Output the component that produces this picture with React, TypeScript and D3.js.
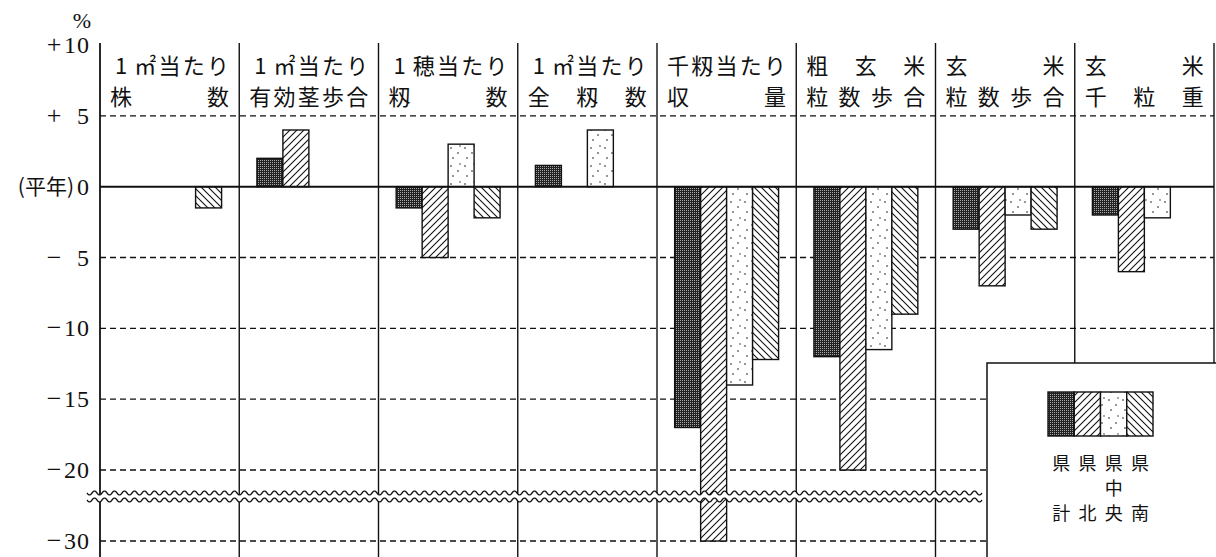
import React from "react";
import * as d3 from "d3";

// ---- data ----
const categoryLine1 = ["1㎡当たり", "1㎡当たり", "1穂当たり", "1㎡当たり", "千籾当たり", "粗玄米", "玄米", "玄米"];
const categoryLine2 = ["株数", "有効茎歩合", "籾数", "全籾数", "収量", "粒数歩合", "粒数歩合", "千粒重"];
const seriesNames = ["県計", "県北", "県中央", "県南"];
const valuesKenkei = [0, 2, -1.5, 1.5, -17, -12, -3, -2];
const valuesKenpoku = [0, 4, -5, 0, -30, -20, -7, -6];
const valuesKenchuo = [0, 0, 3, 4, -14, -11.5, -2, -2.2];
const valuesKennan = [-1.5, 0, -2.2, 0, -12.2, -9, -3, 0];
const yTicks = [10, 5, 0, -5, -10, -15, -20, -30];
const yTickSigns = ["+", "+", "", "−", "−", "−", "−", "−"];
const yTickNums = ["10", "5", "0", "5", "10", "15", "20", "30"];
const dashedTicks = [5, -5, -10, -15, -20, -30];
const legendTop = ["県", "県", "県", "県"];
const legendMid = ["", "", "中", ""];
const legendBot = ["計", "北", "央", "南"];

const seriesValues = [valuesKenkei, valuesKenpoku, valuesKenchuo, valuesKennan];
const patternIds = ["pKei", "pKita", "pChuo", "pMinami"];

const W = 1216;
const H = 557;
const LEFT = 100;
const RIGHT = 1214;
const TOP = 43;
const JP = "Noto Sans CJK JP";
const NUM = "Liberation Serif";
const INK = "#111";

export default function App() {
  const idx = categoryLine1.map((_, i) => i);
  const x0 = d3.scaleBand<number>().domain(idx).range([LEFT, RIGHT]).padding(0);
  const x1 = d3
    .scaleBand<number>()
    .domain(d3.range(seriesNames.length))
    .range([0, x0.bandwidth()])
    .paddingInner(0)
    .paddingOuter(0.68);
  const y = d3.scaleLinear().domain([-30, -20, 10]).range([541, 470, 45]);
  const y0 = y(0);

  const distribute = (text: string, px: number) => {
    const chars = Array.from(text);
    const a = px + 21;
    const b = px + 118;
    return chars.map((c, i) => ({
      c,
      x: chars.length === 1 ? (a + b) / 2 : a + (i * (b - a)) / (chars.length - 1),
    }));
  };

  // break waves (decoration)
  const waveXs = d3.range(87, 983, 1);
  const wave = (base: number) =>
    waveXs.map((wx) => [wx, base + 2 * Math.sin((2 * Math.PI * (wx - 87)) / 10)] as [number, number]);
  const upper = wave(493);
  const lower = wave(500);
  const line = d3.line();
  const band =
    "M" +
    upper.map((p) => p.join(",")).join("L") +
    "L" +
    lower
      .slice()
      .reverse()
      .map((p) => p.join(","))
      .join("L") +
    "Z";

  const legendX = d3.scaleBand<number>().domain(d3.range(4)).range([1048, 1153]);
  const jpStyle = { fontFamily: JP };
  const numStyle = { fontFamily: NUM };

  return (
    <svg width={W} height={H} style={{ position: "absolute", left: 0, top: 0, background: "#fff" }}>
      <defs>
        <pattern id="pKei" width={2} height={2} patternUnits="userSpaceOnUse">
          <rect width={2} height={2} fill="#222" />
          <rect x={0} y={0} width={1} height={1} fill="#aaa" />
        </pattern>
        <pattern id="pKita" width={7} height={7} patternUnits="userSpaceOnUse">
          <rect width={7} height={7} fill="#fff" />
          <path d="M-1,1 L1,-1 M0,7 L7,0 M6,8 L8,6" stroke={INK} strokeWidth={1.1} />
        </pattern>
        <pattern id="pMinami" width={7} height={7} patternUnits="userSpaceOnUse">
          <rect width={7} height={7} fill="#fff" />
          <path d="M-1,6 L1,8 M0,0 L7,7 M6,-1 L8,1" stroke={INK} strokeWidth={1.1} />
        </pattern>
        <pattern id="pChuo" width={14} height={18} patternUnits="userSpaceOnUse">
          <rect width={14} height={18} fill="#fff" />
          <circle cx={3} cy={4} r={0.8} fill={INK} />
          <circle cx={10} cy={9} r={0.8} fill={INK} />
          <circle cx={5} cy={14} r={0.8} fill={INK} />
          <circle cx={12} cy={2} r={0.7} fill={INK} />
        </pattern>
      </defs>

      {/* dashed grid */}
      {dashedTicks.map((t) => (
        <line key={"g" + t} x1={LEFT} x2={RIGHT} y1={y(t)} y2={y(t)} stroke={INK} strokeWidth={1.4} strokeDasharray="6,4" />
      ))}

      {/* bars */}
      {idx.map((i) =>
        seriesValues.map((vals, s) => {
          const v = vals[i];
          if (!v) return null;
          const yv = y(v);
          return (
            <rect
              key={`b${i}-${s}`}
              x={(x0(i) as number) + (x1(s) as number)}
              y={Math.min(yv, y0)}
              width={x1.bandwidth()}
              height={Math.abs(yv - y0)}
              fill={`url(#${patternIds[s]})`}
              stroke={INK}
              strokeWidth={1.4}
            />
          );
        })
      )}

      {/* zero line */}
      <line x1={LEFT} x2={RIGHT} y1={y0} y2={y0} stroke={INK} strokeWidth={2} />

      {/* panel dividers and axis */}
      {idx.map((i) => (
        <line
          key={"v" + i}
          x1={x0(i) as number}
          x2={x0(i) as number}
          y1={TOP}
          y2={H}
          stroke={INK}
          strokeWidth={i === 0 ? 1.8 : 1.4}
        />
      ))}
      <line x1={RIGHT} x2={RIGHT} y1={TOP} y2={H} stroke={INK} strokeWidth={1.4} />

      {/* headers */}
      {idx.map((i) => {
        const px = x0(i) as number;
        return (
          <g key={"h" + i} style={jpStyle} fontSize={22} fill={INK} textAnchor="middle">
            {distribute(categoryLine1[i], px).map((d, k) => (
              <text key={"a" + k} x={d.x} y={74}>
                {d.c}
              </text>
            ))}
            {distribute(categoryLine2[i], px).map((d, k) => (
              <text key={"b" + k} x={d.x} y={105}>
                {d.c}
              </text>
            ))}
          </g>
        );
      })}

      {/* break band */}
      <path d={band} fill="#fff" stroke="none" />
      <path d={line(upper) as string} fill="none" stroke={INK} strokeWidth={1.3} />
      <path d={line(lower) as string} fill="none" stroke={INK} strokeWidth={1.3} />

      {/* y tick labels */}
      <text x={91} y={28} textAnchor="end" style={numStyle} fontSize={22} fill={INK}>
        %
      </text>
      {yTicks.map((t, k) => (
        <g key={"t" + t} fill={INK}>
          {yTickSigns[k] && (
            <text x={54} y={y(t) + 8} textAnchor="middle" style={numStyle} fontSize={26}>
              {yTickSigns[k]}
            </text>
          )}
          <text x={90} y={y(t) + 8} textAnchor="end" style={numStyle} fontSize={24} letterSpacing={1}>
            {yTickNums[k]}
          </text>
          {t === 0 && (
            <text x={74} y={y(t) + 7} textAnchor="end" style={jpStyle} fontSize={21}>
              (平年)
            </text>
          )}
        </g>
      ))}

      {/* legend */}
      <rect x={987} y={363} width={260} height={220} fill="#fff" stroke={INK} strokeWidth={1.5} />
      {seriesNames.map((n, s) => {
        const cx = (legendX(s) as number) + legendX.bandwidth() / 2;
        return (
          <g key={"l" + s}>
            <rect
              x={legendX(s) as number}
              y={392}
              width={legendX.bandwidth()}
              height={44}
              fill={`url(#${patternIds[s]})`}
              stroke={INK}
              strokeWidth={1.4}
            />
            <g style={jpStyle} fontSize={18} fill={INK} textAnchor="middle">
              <text x={cx} y={470}>
                {legendTop[s]}
              </text>
              {legendMid[s] && (
                <text x={cx} y={495}>
                  {legendMid[s]}
                </text>
              )}
              <text x={cx} y={520}>
                {legendBot[s]}
              </text>
            </g>
          </g>
        );
      })}
    </svg>
  );
}
